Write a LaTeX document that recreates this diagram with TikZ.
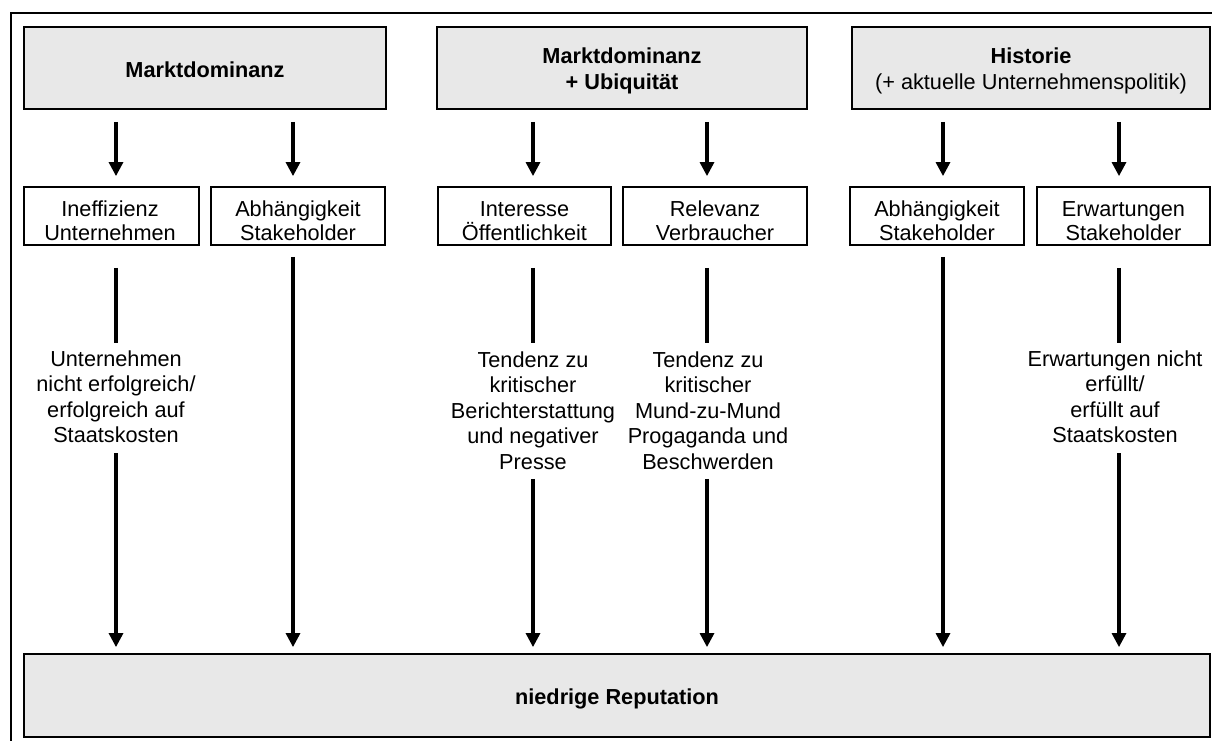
\documentclass[tikz,border=0pt]{standalone}
\usepackage{fontspec}
\setmainfont{Liberation Sans}
\usetikzlibrary{arrows.meta,calc}
\definecolor{boxgray}{HTML}{E8E8E8}
% centred lines whose baseline is the baseline of the first line
\newcommand\stk[1]{\vtop{\halign{\hfil##\hfil\cr#1\crcr}}}

\begin{document}
\begin{tikzpicture}[x=1pt,y=1pt,
  txt/.style={inner sep=0pt, anchor=base, font=\fontsize{21.7}{25.6}\selectfont},
  boxtxt/.style={txt, font=\fontsize{21.7}{23.8}\selectfont},
  headbox/.style={draw, line width=1.8pt, fill=boxgray, inner sep=0pt, minimum height=82pt},
  smallbox/.style={draw, line width=1.8pt, fill=white, inner sep=0pt, minimum height=58pt},
  ln/.style={line width=3.1pt},
  arr/.style={line width=3.1pt, -{Triangle[width=14pt,length=14pt]}},
]
\useasboundingbox (0,0) rectangle (1212,-740);
\clip (0,0) rectangle (1212,-740);

% outer frame
\draw[line width=2.4pt] (11,-760) |- (1230,-13);

% top row
\node[headbox, minimum width=362pt] (m1) at (205,-68) {};
\node[headbox, minimum width=370pt] (m2) at (622,-68) {};
\node[headbox, minimum width=358pt] (m3) at (1031,-68) {};
\node[txt] (m1t) at (205,-77) {\bfseries Marktdominanz};
\node[txt] (m2t) at (622,-63.5) {\bfseries\stk{Marktdominanz\cr + Ubiquität}};
\node[txt] (m3t) at (1031,-63.5) {\stk{\bfseries Historie\cr (+ aktuelle Unternehmenspolitik)}};

% second row
\node[smallbox, minimum width=175pt] (ia) at (111.5,-216) {};
\node[smallbox, minimum width=174pt] (ib) at (298,-216) {};
\node[smallbox, minimum width=173pt] (ic) at (524.5,-216) {};
\node[smallbox, minimum width=184pt] (id) at (715,-216) {};
\node[smallbox, minimum width=174pt] (ie) at (937,-216) {};
\node[smallbox, minimum width=173pt] (if) at (1123.5,-216) {};
\node[boxtxt] (iat) at (110,-216.5) {\stk{Ineffizienz\cr Unternehmen}};
\node[boxtxt] (ibt) at (298,-216.5) {\stk{Abhängigkeit\cr Stakeholder}};
\node[boxtxt] (ict) at (524.5,-216.5) {\stk{Interesse\cr Öffentlichkeit}};
\node[boxtxt] (idt) at (715,-216.5) {\stk{Relevanz\cr Verbraucher}};
\node[boxtxt] (iet) at (937,-216.5) {\stk{Abhängigkeit\cr Stakeholder}};
\node[boxtxt] (ift) at (1123.5,-216.5) {\stk{Erwartungen\cr Stakeholder}};

% bottom box
\node[draw, line width=1.8pt, fill=boxgray, inner sep=0pt,
      minimum width=1186pt, minimum height=83pt] (rep) at (617,-695.5) {};
\node[txt] (rept) at (617,-704) {\bfseries niedrige Reputation};

% column positions (first text baseline)
\coordinate (c1) at (116,-366);
\coordinate (c2) at (293,-366);
\coordinate (c3) at (533,-367);
\coordinate (c4) at (707,-367);
\coordinate (c5) at (943,-366);
\coordinate (c6) at (1119,-366);

% middle texts
\node[txt] (t1) at (c1) {\stk{Unternehmen\cr nicht erfolgreich/\cr erfolgreich auf\cr Staatskosten}};
\node[txt] (t3) at (c3) {\stk{Tendenz zu\cr kritischer\cr Berichterstattung\cr und negativer\cr Presse}};
\node[txt] (t4) at (708,-367) {\stk{Tendenz zu\cr kritischer\cr Mund-zu-Mund\cr Progaganda und\cr Beschwerden}};
\node[txt] (t6) at (1115,-366) {\stk{Erwartungen nicht\cr erfüllt/\cr erfüllt auf\cr Staatskosten}};

% arrows from the top row
\draw[arr] ($(c1 |- m1.south)+(0,-12)$) -- ($(c1 |- ia.north)+(0,10)$);
\draw[arr] ($(c2 |- m1.south)+(0,-12)$) -- ($(c2 |- ib.north)+(0,10)$);
\draw[arr] ($(c3 |- m2.south)+(0,-12)$) -- ($(c3 |- ic.north)+(0,10)$);
\draw[arr] ($(c4 |- m2.south)+(0,-12)$) -- ($(c4 |- id.north)+(0,10)$);
\draw[arr] ($(c5 |- m3.south)+(0,-12)$) -- ($(c5 |- ie.north)+(0,10)$);
\draw[arr] ($(c6 |- m3.south)+(0,-12)$) -- ($(c6 |- if.north)+(0,10)$);

% segments above the texts
\draw[ln] ($(c1 |- ia.south)+(0,-22)$) -- ($(c1)+(0,23)$);
\draw[ln] ($(c3 |- ic.south)+(0,-22)$) -- ($(c3)+(0,24)$);
\draw[ln] ($(c4 |- id.south)+(0,-22)$) -- ($(c4)+(0,24)$);
\draw[ln] ($(c6 |- if.south)+(0,-22)$) -- ($(c6)+(0,23)$);

% arrows into the bottom box
\draw[arr] ($(c1 |- t1.south)+(0,-10)$) -- ($(c1 |- rep.north)+(0,6)$);
\draw[arr] ($(c2 |- ib.south)+(0,-11)$) -- ($(c2 |- rep.north)+(0,6)$);
\draw[arr] ($(c3 |- t3.south)+(0,-9)$) -- ($(c3 |- rep.north)+(0,6)$);
\draw[arr] ($(c4 |- t4.south)+(0,-9)$) -- ($(c4 |- rep.north)+(0,6)$);
\draw[arr] ($(c5 |- ie.south)+(0,-11)$) -- ($(c5 |- rep.north)+(0,6)$);
\draw[arr] ($(c6 |- t6.south)+(0,-10)$) -- ($(c6 |- rep.north)+(0,6)$);
\end{tikzpicture}
\end{document}
